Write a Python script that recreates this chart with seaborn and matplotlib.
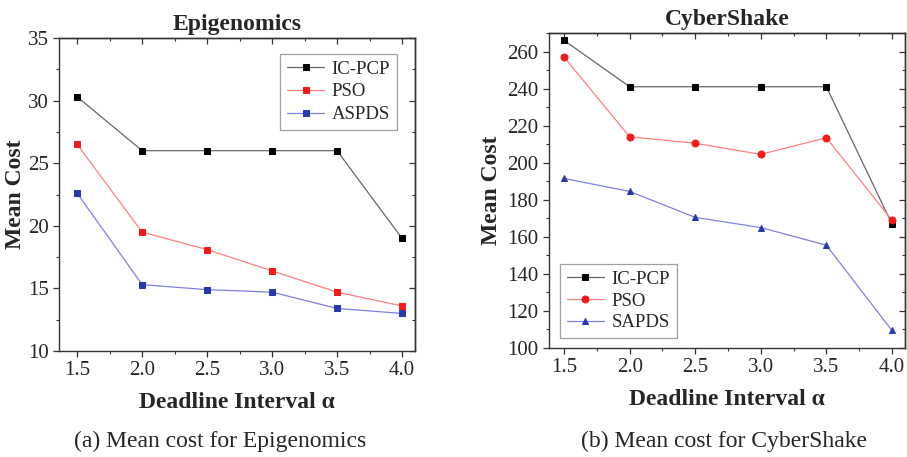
import pandas as pd
import matplotlib.pyplot as plt
import seaborn as sns
from matplotlib.ticker import MultipleLocator, NullFormatter

# ---- Data ----
alpha = [1.5, 2.0, 2.5, 3.0, 3.5, 4.0]

epi_icpcp = [30.3, 26.0, 26.0, 26.0, 26.0, 19.0]
epi_pso = [26.5, 19.5, 18.1, 16.4, 14.7, 13.6]
epi_aspds = [22.6, 15.3, 14.9, 14.7, 13.4, 13.0]

cyb_icpcp = [266, 241, 241, 241, 241, 167]
cyb_pso = [257, 214, 210.5, 204.5, 213.5, 169]
cyb_sapds = [191.5, 184.5, 170.5, 165, 155.5, 109.5]

sns.set_style("ticks")
plt.rcParams["font.family"] = ["Liberation Serif", "DejaVu Serif"]

marker_colors = ["#000000", "#ee1c1c", "#2b3aa8"]
line_colors = ["#666666", "#ff8080", "#8080e0"]


def long_df(series):
    rows = []
    for name, vals in series.items():
        for a, v in zip(alpha, vals):
            rows.append({"alpha": a, "cost": v, "algo": name})
    return pd.DataFrame(rows)


epi_df = long_df({"IC-PCP": epi_icpcp, "PSO": epi_pso, "ASPDS": epi_aspds})
cyb_df = long_df({"IC-PCP": cyb_icpcp, "PSO": cyb_pso, "SAPDS": cyb_sapds})

fig = plt.figure(figsize=(9.07, 4.57), dpi=100)
ax1 = fig.add_axes([59 / 907, 106 / 457, 356 / 907, 313 / 457])
ax2 = fig.add_axes([549 / 907, 109 / 457, 356 / 907, 315 / 457])

sns.lineplot(data=epi_df, x="alpha", y="cost", hue="algo", style="algo",
             markers=["s", "s", "s"], dashes=False, palette=marker_colors,
             markersize=4.7, linewidth=0.9, markeredgecolor="none", ax=ax1)
sns.lineplot(data=cyb_df, x="alpha", y="cost", hue="algo", style="algo",
             markers=["s", "o", "^"], dashes=False, palette=marker_colors,
             markersize=5, linewidth=0.9, markeredgecolor="none", ax=ax2)

# lighter connecting lines, saturated markers
for ax in (ax1, ax2):
    for ln, lc, mc in zip(ax.get_lines()[:3], line_colors, marker_colors):
        ln.set_color(lc)
        ln.set_markerfacecolor(mc)
        ln.set_markeredgecolor(mc)

ax1.set_xlim(1.36, 4.1)
ax1.set_ylim(10, 35)
ax1.yaxis.set_major_locator(MultipleLocator(5))
ax1.yaxis.set_minor_locator(MultipleLocator(2.5))
ax2.set_xlim(1.385, 4.1)
ax2.set_ylim(100, 270)
ax2.yaxis.set_major_locator(MultipleLocator(20))
ax2.yaxis.set_minor_locator(MultipleLocator(10))

for ax, title in [(ax1, "Epigenomics"), (ax2, "CyberShake")]:
    ax.xaxis.set_major_locator(MultipleLocator(0.5))
    ax.xaxis.set_minor_locator(MultipleLocator(0.25))
    ax.xaxis.set_major_formatter(plt.FormatStrFormatter("%.1f"))
    ax.tick_params(which="both", direction="out", labelsize=15,
                   color="#333333", pad=3)
    ax.tick_params(which="major", length=4.5, width=0.9)
    ax.tick_params(which="minor", length=2.5, width=0.8)
    for s in ax.spines.values():
        s.set_linewidth(1.0)
        s.set_color("#333333")

    # top / right ticks point inward
    top = ax.secondary_xaxis("top")
    top.xaxis.set_major_locator(MultipleLocator(0.5))
    top.xaxis.set_minor_locator(MultipleLocator(0.25))
    top.xaxis.set_major_formatter(NullFormatter())
    right = ax.secondary_yaxis("right")
    right.yaxis.set_major_locator(ax.yaxis.get_major_locator())
    right.yaxis.set_minor_locator(ax.yaxis.get_minor_locator())
    right.yaxis.set_major_formatter(NullFormatter())
    for sec in (top, right):
        sec.tick_params(which="both", direction="in", color="#333333")
        sec.tick_params(which="major", length=4.5, width=0.9)
        sec.tick_params(which="minor", length=2.5, width=0.8)
        for s in sec.spines.values():
            s.set_linewidth(1.0)
            s.set_color("#333333")

    ax.set_title(title, fontsize=17, fontweight="bold", pad=6)
    ax.set_xlabel("Deadline Interval α", fontsize=17, fontweight="bold",
                  labelpad=8)

ax1.set_ylabel("Mean Cost", fontsize=17, fontweight="bold", labelpad=1)
ax2.set_ylabel("Mean Cost", fontsize=17, fontweight="bold", labelpad=4)

leg1 = ax1.legend(loc="upper right", fontsize=13.5, frameon=True,
                  fancybox=False, edgecolor="#888888",
                  bbox_to_anchor=(0.949, 0.949), handlelength=2.0,
                  borderpad=0.35, labelspacing=0.3, handletextpad=0.4,
                  borderaxespad=0)
leg2 = ax2.legend(loc="lower left", fontsize=13.5, frameon=True,
                  fancybox=False, edgecolor="#888888",
                  bbox_to_anchor=(0.031, 0.032), handlelength=2.0,
                  borderpad=0.35, labelspacing=0.25, handletextpad=0.4,
                  borderaxespad=0)
for leg in (leg1, leg2):
    leg.get_frame().set_linewidth(0.9)
    for h, lc, mc in zip(leg.get_lines(), line_colors, marker_colors):
        h.set_color(lc)
        h.set_markerfacecolor(mc)
        h.set_markeredgecolor(mc)

fig.text(220 / 907, 1 - 441 / 457, "(a) Mean cost for Epigenomics",
         ha="center", va="center", fontsize=17)
fig.text(724 / 907, 1 - 441 / 457, "(b) Mean cost for CyberShake",
         ha="center", va="center", fontsize=17)

fig.savefig("out.png", dpi=100)
